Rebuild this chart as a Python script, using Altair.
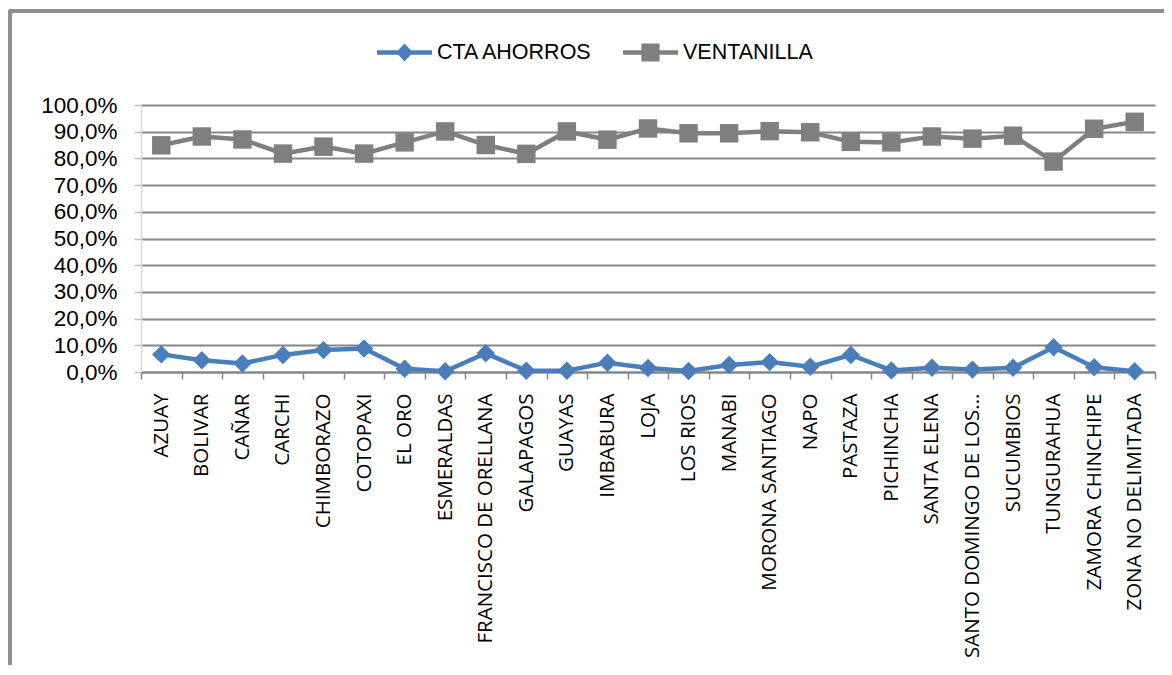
import altair as alt
import pandas as pd

provinces = ["AZUAY", "BOLIVAR", "CAÑAR", "CARCHI", "CHIMBORAZO", "COTOPAXI", "EL ORO",
             "ESMERALDAS", "FRANCISCO DE ORELLANA", "GALAPAGOS", "GUAYAS", "IMBABURA",
             "LOJA", "LOS RIOS", "MANABI", "MORONA SANTIAGO", "NAPO", "PASTAZA",
             "PICHINCHA", "SANTA ELENA", "SANTO DOMINGO DE LOS...", "SUCUMBIOS",
             "TUNGURAHUA", "ZAMORA CHINCHIPE", "ZONA NO DELIMITADA"]
cta_ahorros = [6.6, 4.4, 3.2, 6.4, 8.2, 8.8, 1.2, 0.3, 7.0, 0.5, 0.5, 3.5, 1.5,
               0.4, 2.6, 3.7, 2.0, 6.4, 0.6, 1.6, 0.9, 1.6, 9.3, 1.8, 0.3]
ventanilla = [84.9, 88.2, 87.1, 81.8, 84.4, 81.8, 86.0, 90.1, 85.0, 81.7, 90.1, 87.0,
              91.2, 89.4, 89.4, 90.2, 89.8, 86.2, 86.0, 88.2, 87.4, 88.5, 78.8, 91.1, 93.7]
series_names = ["CTA AHORROS", "VENTANILLA"]
series_colors = ["#4A7EBB", "#7F7F7F"]

rows = []
for name, vals in zip(series_names, [cta_ahorros, ventanilla]):
    for p, v in zip(provinces, vals):
        rows.append({"provincia": p, "serie": name, "valor": v / 100.0})
df = pd.DataFrame(rows)

LEG_DIAMOND = "M-1,-0.08L1,-0.08L1,0.08L-1,0.08Z M0,-0.33L0.31,0L0,0.33L-0.31,0Z"
LEG_SQUARE = "M-1,-0.085L1,-0.085L1,0.085L-1,0.085Z M-0.33,-0.33L0.33,-0.33L0.33,0.33L-0.33,0.33Z"

x_enc = alt.X("provincia:N", sort=provinces, bandPosition=0.5,
              scale=alt.Scale(type="band", domain=provinces, paddingInner=0, paddingOuter=0),
              axis=alt.Axis(title=None, labelAngle=-90, labelFont="Open Sans", labelFontSize=20.5,
                            labelColor="#000000", labelPadding=14, labelLimit=400,
                            tickBand="extent", tickSize=7, tickColor="#868686", tickWidth=1.5,
                            domainColor="#868686", domainWidth=2, grid=False))
y_enc = alt.Y("valor:Q", scale=alt.Scale(domain=[0, 1], nice=False),
              axis=alt.Axis(title=None, values=[i / 10 for i in range(11)],
                            labelExpr="replace(format(datum.value, '.1%'), '.', ',')",
                            labelFont="Liberation Sans", labelFontSize=22.5, labelColor="#000000",
                            labelPadding=17, tickSize=7, tickColor="#bdbdbd", tickWidth=1.5,
                            domainColor="#d9d9d9", domainWidth=1.5,
                            grid=True, gridColor="#868686", gridWidth=2))

color_scale = alt.Scale(domain=series_names, range=series_colors)

lines = alt.Chart(df).mark_line(strokeWidth=4.5).encode(
    x=x_enc, y=y_enc,
    color=alt.Color("serie:N", scale=color_scale, legend=None),
)
points = alt.Chart(df).mark_point(filled=True, opacity=1, size=340).encode(
    x=x_enc, y=y_enc,
    color=alt.Color("serie:N", scale=color_scale, legend=None),
    shape=alt.Shape("serie:N", scale=alt.Scale(domain=series_names, range=["diamond", "square"]),
                    legend=None),
)

def make_legend():
    return alt.Legend(title=None, orient="none", legendX=236, legendY=-80,
                      direction="horizontal", symbolSize=3025,
                      symbolOpacity=1, symbolStrokeWidth=0,
                      labelFont="Liberation Sans", labelFontSize=21.5,
                      labelColor="#000000", labelOffset=5,
                      columnPadding=29, padding=0, labelLimit=400)

legend_layer = alt.Chart(df).mark_point(filled=True, opacity=0, strokeWidth=0).encode(
    x=x_enc, y=y_enc,
    color=alt.Color("serie:N", scale=color_scale, legend=make_legend()),
    shape=alt.Shape("serie:N", scale=alt.Scale(domain=series_names, range=[LEG_DIAMOND, LEG_SQUARE]),
                    legend=make_legend()),
)

frame_top = alt.Chart(df).mark_rule(color="#8f8f8f", strokeWidth=2.5).encode(
    x=alt.value(-132), x2=alt.value(1040), y=alt.value(-94))
frame_left = alt.Chart(df).mark_rule(color="#8f8f8f", strokeWidth=2.5).encode(
    x=alt.value(-131), y=alt.value(-95), y2=alt.value(620))

chart = alt.layer(frame_top, frame_left, lines, points, legend_layer).resolve_scale(
    color="independent", shape="independent"
).properties(
    width=1014, height=267,
    autosize=alt.AutoSizeParams(type="none"),
    padding={"left": 133, "top": 97, "right": 9, "bottom": 293},
    background="#ffffff",
).configure_view(stroke=None)

chart.save("out.html", embed_options={"renderer": "svg", "actions": False})
